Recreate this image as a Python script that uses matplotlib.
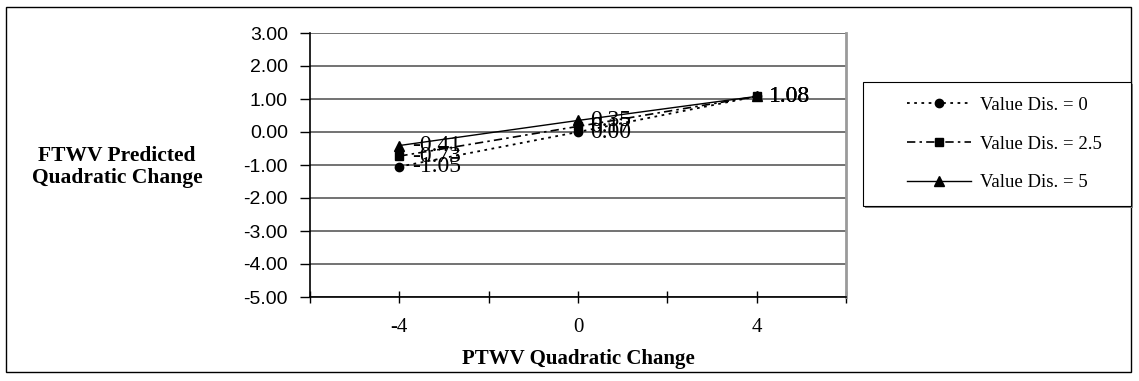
import matplotlib
matplotlib.use("Agg")
import matplotlib.pyplot as plt
from matplotlib.patches import Rectangle

# Data
x_values = [-4, 0, 4]
series_names = ["Value Dis. = 0", "Value Dis. = 2.5", "Value Dis. = 5"]
dis_0 = [-1.05, 0.00, 1.08]
dis_25 = [-0.73, 0.17, 1.08]
dis_5 = [-0.41, 0.35, 1.08]
y_ticks = [3, 2, 1, 0, -1, -2, -3, -4, -5]
x_tick_labels = {-4: "-4", 0: "0", 4: "4"}

W, H = 1139, 381
fig = plt.figure(figsize=(W / 100, H / 100), dpi=100)
fig.patch.set_facecolor("white")

def fx(px):
    return px / W

def fy(py):
    return 1 - py / H

serif = ["Liberation Serif", "DejaVu Serif"]
sans = ["Liberation Sans", "DejaVu Sans"]

# outer chart frame
fig.add_artist(Rectangle((fx(6), fy(372)), fx(1131) - fx(6), fy(7) - fy(372),
                         transform=fig.transFigure, fill=False,
                         edgecolor="black", linewidth=1.0))

left, right, top, bottom = 310, 846, 33, 297
ax = fig.add_axes([fx(left), fy(bottom), fx(right) - fx(left), fy(top) - fy(bottom)])

ax.set_xlim(-6, 6)
ax.set_ylim(-5, 3)
ax.set_yticks(y_ticks)
ax.set_yticklabels([f"{v:.2f}" for v in y_ticks], fontfamily=sans, fontsize=14)
xt = list(range(-6, 7, 2))
ax.set_xticks(xt)
ax.set_xticklabels([x_tick_labels.get(t, "") for t in xt], fontfamily=serif, fontsize=15)

ax.tick_params(axis="y", direction="out", length=7, width=1, pad=9, colors="black")
ax.tick_params(axis="x", direction="inout", length=8, width=1, pad=11, colors="black")

ax.grid(axis="y", color="#5a5a5a", linewidth=1.2)
ax.set_axisbelow(True)
for s in ("left", "bottom"):
    ax.spines[s].set_color("black")
    ax.spines[s].set_linewidth(1.2)
ax.spines["top"].set_visible(False)
ax.spines["right"].set_color("#9a9a9a")
ax.spines["right"].set_linewidth(2)

styles = [
    dict(linestyle=(0, (1.5, 2.5)), linewidth=1.3, marker="o", markersize=6),
    dict(linestyle=(0, (5, 2.5, 1.5, 2.5)), linewidth=1.2, marker="s", markersize=6),
    dict(linestyle="-", linewidth=1.0, marker="^", markersize=7),
]
series = [dis_0, dis_25, dis_5]
handles = []
for name, vals, st in zip(series_names, series, styles):
    (ln,) = ax.plot(x_values, vals, color="black",
                    markerfacecolor="black", markeredgecolor="black",
                    label=name, clip_on=False, **st)
    handles.append(ln)
    for xv, yv in zip(x_values, vals):
        ax.annotate(f"{yv:.2f}", (xv, yv), xytext=(9, 0), textcoords="offset points",
                    ha="left", va="center", fontfamily=serif, fontsize=17)

ax.set_xlabel("PTWV Quadratic Change", fontfamily=serif, fontsize=15,
              fontweight="bold", labelpad=9)
fig.text(fx(117), fy(167), "FTWV Predicted\nQuadratic Change", ha="center", va="center",
         fontfamily=serif, fontsize=15.5, fontweight="bold", linespacing=1.1)

# legend box with shadow
lx0, ly0, lx1, ly1 = 863, 82, 1131, 206
fig.add_artist(Rectangle((fx(lx0 + 2), fy(ly1 + 2)), fx(lx1) - fx(lx0), fy(ly0) - fy(ly1),
                         transform=fig.transFigure, facecolor="#808080",
                         edgecolor="none", zorder=1))
fig.add_artist(Rectangle((fx(lx0), fy(ly1)), fx(lx1) - fx(lx0), fy(ly0) - fy(ly1),
                         transform=fig.transFigure, facecolor="white",
                         edgecolor="black", linewidth=0.8, zorder=2))
leg = fig.legend(handles=handles, labels=series_names, loc="center left",
                 bbox_to_anchor=(fx(898), fy(144)), frameon=False, borderpad=0,
                 prop={"family": serif, "size": 13.5}, handlelength=3.4,
                 handletextpad=0.5, labelspacing=1.15)
leg.set_zorder(3)

fig.savefig("out.png", dpi=100, facecolor="white")
